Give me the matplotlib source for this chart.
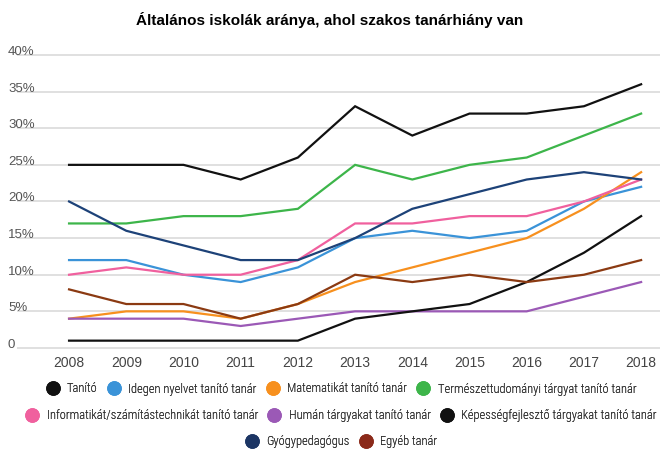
import matplotlib.pyplot as plt
from matplotlib.lines import Line2D
from matplotlib import font_manager

years = [2008, 2009, 2010, 2011, 2012, 2013, 2014, 2015, 2016, 2017, 2018]

tanito = [25, 25, 25, 23, 26, 33, 29, 32, 32, 33, 36]
idegen_nyelv = [12, 12, 10, 9, 11, 15, 16, 15, 16, 20, 22]
matematika = [4, 5, 5, 4, 6, 9, 11, 13, 15, 19, 24]
termeszettud = [17, 17, 18, 18, 19, 25, 23, 25, 26, 29, 32]
informatika = [10, 11, 10, 10, 12, 17, 17, 18, 18, 20, 23]
human = [4, 4, 4, 3, 4, 5, 5, 5, 5, 7, 9]
kepessegfejl = [1, 1, 1, 1, 1, 4, 5, 6, 9, 13, 18]
gyogyped = [20, 16, 14, 12, 12, 15, 19, 21, 23, 24, 23]
egyeb = [8, 6, 6, 4, 6, 10, 9, 10, 9, 10, 12]

series = [
    ("Tanító", tanito, "#111111"),
    ("Idegen nyelvet tanító tanár", idegen_nyelv, "#3a93d8"),
    ("Matematikát tanító tanár", matematika, "#f7901e"),
    ("Természettudományi tárgyat tanító tanár", termeszettud, "#3db54a"),
    ("Informatikát/számítástechnikát tanító tanár", informatika, "#f0609e"),
    ("Humán tárgyakat tanító tanár", human, "#9b59b6"),
    ("Képességfejlesztő tárgyakat tanító tanár", kepessegfejl, "#111111"),
    ("Gyógypedagógus", gyogyped, "#1d4278"),
    ("Egyéb tanár", egyeb, "#8b3a12"),
]
legend_colors = {"Gyógypedagógus": "#1c3564", "Egyéb tanár": "#8b2a1a"}

yticks = [0, 5, 10, 15, 20, 25, 30, 35, 40]
ytick_labels = ["0", "5%", "10%", "15%", "20%", "25%", "30%", "35%", "40%"]

title = "Általános iskolák aránya, ahol szakos tanárhiány van"

plt.rcParams['font.family'] = ['Liberation Sans', 'DejaVu Sans']

# the legend in the source uses a narrow face; take one if it is installed
installed = {f.name for f in font_manager.fontManager.ttflist}
narrow = None
for cand in ['Liberation Sans Narrow', 'Arial Narrow', 'Roboto Condensed',
             'Open Sans Condensed', 'DejaVu Sans Condensed']:
    if cand in installed:
        narrow = cand
        break
if narrow:
    leg_prop = {'family': [narrow, 'Liberation Sans'], 'size': 9, 'weight': 'light'}
else:
    leg_prop = {'family': ['Liberation Sans'], 'size': 7.5}

fig = plt.figure(figsize=(6.6, 4.49), dpi=100)
ax = fig.add_axes([17 / 660, 1 - 349 / 449, 643 / 660, 299 / 449])

for name, vals, col in series:
    ax.plot(years, vals, color=col, linewidth=1.6, solid_joinstyle='miter')

ax.set_xlim(2007.09, 2018.33)
ax.set_ylim(-0.14, 40.68)
ax.set_xticks(years)
ax.set_xticklabels([str(y) for y in years], fontsize=10, color='#444444')
ax.set_yticks(yticks)
ax.set_yticklabels(ytick_labels, fontsize=9.5, color='#555555', ha='left', va='baseline')
ax.tick_params(axis='y', length=0, pad=6.5)
ax.tick_params(axis='x', length=0, pad=5)
ax.grid(axis='y', color='#dddddd', linewidth=1.3)
ax.set_axisbelow(True)
for s in ax.spines.values():
    s.set_visible(False)

fig.text(0.5, 1 - 20 / 449, title, ha='center', va='center', fontsize=11, fontweight='bold')

handles = []
for name, vals, col in series:
    handles.append(Line2D([], [], marker='o', linestyle='none', markersize=9.5,
                          color=legend_colors.get(name, col), label=name))

rows = [(handles[0:4], 389), (handles[4:7], 416), (handles[7:9], 442)]
for hs, ypix in rows:
    leg = fig.legend(handles=hs, loc='center', bbox_to_anchor=(341 / 660, 1 - ypix / 449),
                     ncol=len(hs), frameon=False, handletextpad=0.6, columnspacing=0.75,
                     handlelength=1.1, borderaxespad=0, borderpad=0, prop=leg_prop)
    for t in leg.get_texts():
        t.set_color('#333333')
    fig.add_artist(leg)

fig.savefig('out.png', dpi=100)
